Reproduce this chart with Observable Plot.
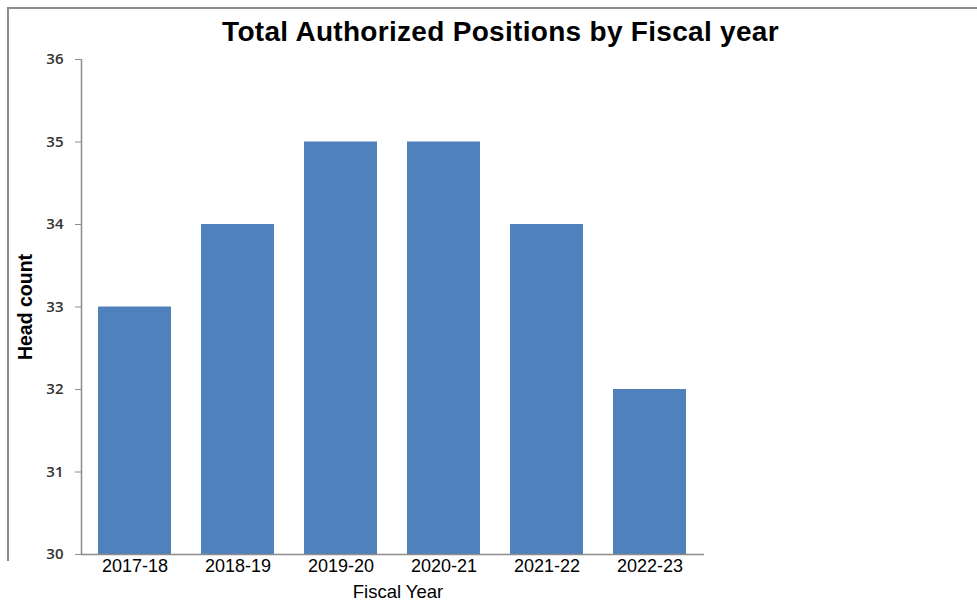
<!DOCTYPE html>
<html><head><meta charset="utf-8">
<script src="https://cdn.jsdelivr.net/npm/d3@7"></script>
<script src="https://cdn.jsdelivr.net/npm/@observablehq/plot@0.6"></script>
<style>
html,body{margin:0;padding:0;background:#fff;}
#wrap{position:relative;width:977px;height:601px;overflow:hidden;}
#frame{position:absolute;left:7px;top:7px;width:975px;height:554px;border-top:2px solid #8c8c8c;border-left:2px solid #8c8c8c;box-sizing:border-box;}
#chart{position:absolute;left:0;top:0;}
</style></head>
<body><div id="wrap"><div id="frame"></div><div id="chart"></div></div>
<script>
const years = ["2017-18","2018-19","2019-20","2020-21","2021-22","2022-23"];
const headCount = [33,34,35,35,34,32];
const yTicks = [30,31,32,33,34,35,36];
const title = "Total Authorized Positions by Fiscal year";
const xLabel = "Fiscal Year";
const yLabel = "Head count";

const data = years.map((y,i)=>({year:y, value:headCount[i]}));
const W = 977, ML = 81, MR = 273;
const frameW = W - ML - MR;

const chart = Plot.plot({
  width: W, height: 601,
  marginTop: 59, marginBottom: 47, marginLeft: ML, marginRight: MR,
  style: {fontFamily: "Liberation Sans, Arial, sans-serif", background: "transparent"},
  x: {domain: years, paddingInner: 0.29, paddingOuter: 0.145, label: null},
  y: {domain: [30,36], label: null},
  marks: [
    Plot.barY(data, {x: "year", y1: 30, y2: "value", fill: "#4f81bd"}),
    Plot.axisY({ticks: yTicks, tickFormat: d => String(d), tickSize: 6, tickPadding: 12, stroke: "#8c8c8c", fill: "#333", fontSize: 15, fontWeight: 600, fontFamily: "Open Sans, DejaVu Sans, sans-serif", label: null}),
    Plot.axisX({tickSize: 0, tickPadding: 5, fontSize: 18, fill: "#000", label: null}),
    Plot.ruleY([30], {stroke: "#8c8c8c", strokeWidth: 1.5}),
    Plot.ruleX([0], {x: null, dx: -frameW / 2, stroke: "#8c8c8c", strokeWidth: 1.5}),
    Plot.text([title], {frameAnchor: "top", lineAnchor: "middle", dy: -27, dx: 500 - (ML + frameW / 2), fontSize: 28, fontWeight: "bold", fill: "#000"}),
    Plot.text([xLabel], {frameAnchor: "bottom", lineAnchor: "middle", dy: 38, dx: 5, fontSize: 18.5, fill: "#000"}),
    Plot.text([yLabel], {frameAnchor: "left", textAnchor: "middle", lineAnchor: "middle", dx: -56, rotate: -90, fontSize: 19.5, fontWeight: "bold", fill: "#000"})
  ]
});
chart.querySelectorAll("text").forEach(t => { if (t.textContent === title) t.setAttribute("letter-spacing", "0.3"); });
document.getElementById("chart").appendChild(chart);
</script></body></html>
